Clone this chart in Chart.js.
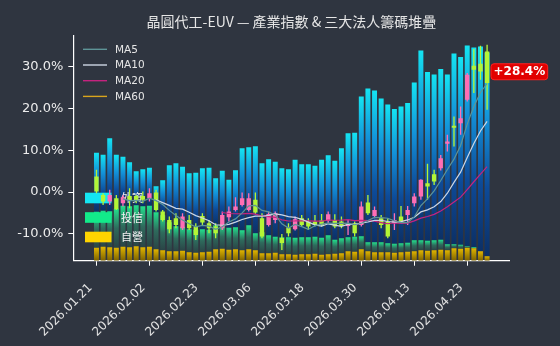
<!DOCTYPE html>
<html>
<head>
<meta charset="utf-8">
<script src="https://cdn.jsdelivr.net/npm/chart.js@4.4.1/dist/chart.umd.min.js"></script>
<style>
  html, body { margin: 0; padding: 0; background: #2f3540; }
  #wrap { width: 560px; height: 346px; }
</style>
</head>
<body>
<div id="wrap"><canvas id="chart" width="560" height="346"></canvas></div>
<script>
// trading days
const dates = [
  '2026.01.21', '2026.01.22', '2026.01.23', '2026.01.26', '2026.01.27', '2026.01.28', '2026.01.29', '2026.01.30',
  '2026.02.02', '2026.02.03', '2026.02.04', '2026.02.05', '2026.02.06', '2026.02.09', '2026.02.10', '2026.02.11',
  '2026.02.23', '2026.02.24', '2026.02.25', '2026.02.26', '2026.03.02', '2026.03.03', '2026.03.04', '2026.03.05',
  '2026.03.06', '2026.03.09', '2026.03.10', '2026.03.11', '2026.03.12', '2026.03.13', '2026.03.16', '2026.03.17',
  '2026.03.18', '2026.03.19', '2026.03.20', '2026.03.23', '2026.03.24', '2026.03.25', '2026.03.26', '2026.03.27',
  '2026.03.30', '2026.03.31', '2026.04.01', '2026.04.02', '2026.04.07', '2026.04.08', '2026.04.09', '2026.04.10',
  '2026.04.13', '2026.04.14', '2026.04.15', '2026.04.16', '2026.04.17', '2026.04.20', '2026.04.21', '2026.04.22',
  '2026.04.23', '2026.04.24', '2026.04.27', '2026.04.28'
];
const xTickIndex = [0, 8, 16, 24, 32, 40, 48, 56];
const yTicks = [-10, 0, 10, 20, 30];

// index, % vs start
const opens = [3.71, -0.67, -2.27, -1.46, -2.65, -0.91, -0.91, -0.91, -1.46, -0.12,
  -4.66, -6.65, -6.24, -8.63, -6.65, -8.25, -5.69, -7.44, -8.25, -8.63,
  -6.00, -4.26, -3.06, -4.26, -1.86, -6.24, -7.84, -6.65, -10.95, -8.49,
  -8.87, -6.24, -7.05, -7.05, -6.81, -6.89, -6.65, -7.05, -8.08, -7.44,
  -7.84, -2.51, -5.69, -6.24, -7.05, -7.44, -5.86, -5.45, -2.65, -1.08,
  2.13, 4.28, 5.71, 11.52, 15.83, 16.47, 22.04, 30.17, 30.65, 33.59];
const highs = [5.31, -0.26, 0.53, -0.67, -0.67, 0.93, -0.67, 0.12, 0.93, 0.53,
  -4.26, -5.86, -5.04, -5.04, -5.45, -7.44, -5.04, -6.65, -7.44, -4.66,
  -3.47, -1.22, -0.12, -0.26, -0.12, -5.04, -4.66, -4.66, -9.99, -7.44,
  -5.86, -5.45, -6.24, -5.45, -5.21, -4.66, -5.28, -5.86, -6.65, -7.05,
  -2.27, -0.67, -3.47, -5.45, -6.24, -5.04, -3.30, -3.30, -0.26, 3.08,
  6.74, 5.31, 8.89, 13.68, 18.05, 20.44, 28.43, 34.17, 34.95, 35.19];
const lows = [-0.26, -3.06, -3.06, -4.26, -3.47, -3.85, -2.65, -2.65, -2.27, -4.66,
  -7.05, -9.83, -8.63, -9.04, -9.04, -11.43, -7.84, -9.83, -11.02, -9.04,
  -7.05, -4.66, -3.47, -4.66, -5.21, -11.02, -8.25, -7.44, -13.82, -10.64,
  -9.20, -8.25, -9.04, -8.25, -8.25, -7.44, -8.63, -8.63, -10.23, -10.64,
  -8.25, -5.45, -6.24, -8.63, -11.02, -9.04, -7.44, -7.84, -3.47, -1.86,
  -1.86, 1.72, 5.14, 9.68, 10.88, 13.68, 21.64, 23.65, 26.83, 19.65];
const closes = [0.12, -2.27, -0.67, -4.09, -1.22, -2.03, -1.86, -1.86, -0.26, -4.26,
  -6.65, -8.87, -7.84, -5.86, -8.63, -10.23, -7.29, -8.63, -9.83, -5.45,
  -4.66, -3.47, -1.46, -1.46, -4.90, -10.64, -5.21, -5.04, -12.15, -9.83,
  -6.48, -7.84, -8.25, -7.84, -7.84, -5.28, -8.25, -8.08, -7.60, -9.83,
  -3.47, -5.04, -4.26, -7.84, -10.64, -6.65, -7.05, -4.26, -1.08, 2.92,
  1.32, 2.51, 8.11, 12.07, 15.35, 17.67, 28.02, 29.22, 28.81, 26.04];

const ma5 = [null, null, null, null, -1.63, -2.06, -1.97, -2.21, -1.45, -2.05,
  -2.98, -4.38, -5.58, -6.70, -7.57, -8.29, -7.97, -8.13, -8.92, -8.29,
  -7.17, -6.41, -4.97, -3.30, -3.19, -4.39, -4.73, -5.45, -7.59, -8.57,
  -7.74, -8.27, -8.91, -8.05, -7.65, -7.41, -7.49, -7.46, -7.41, -7.81,
  -7.45, -6.80, -6.04, -6.09, -6.25, -6.89, -7.29, -7.29, -5.94, -3.22,
  -1.63, 0.28, 2.76, 5.39, 7.87, 11.14, 16.24, 20.47, 23.81, 25.95];
const ma10 = [null, null, null, null, null, null, null, null, null, -1.84,
  -2.52, -3.18, -3.89, -4.07, -4.81, -5.63, -6.18, -6.85, -7.81, -7.93,
  -7.73, -7.19, -6.55, -6.11, -5.74, -5.78, -5.57, -5.21, -5.44, -5.88,
  -6.06, -6.50, -7.18, -7.82, -8.11, -7.58, -7.88, -8.18, -7.73, -7.73,
  -7.43, -7.15, -6.75, -6.75, -7.03, -7.17, -7.05, -6.66, -6.01, -4.74,
  -4.26, -3.50, -2.27, -0.28, 2.32, 4.76, 8.26, 11.61, 14.60, 16.91];
const ma20 = [null, null, null, null, null, null, null, null, null, null,
  null, null, null, null, null, null, null, null, null, -4.88,
  -5.12, -5.18, -5.22, -5.09, -5.28, -5.71, -5.87, -6.03, -6.63, -6.91,
  -6.90, -6.85, -6.87, -6.96, -6.93, -6.68, -6.73, -6.70, -6.59, -6.81,
  -6.75, -6.82, -6.96, -7.28, -7.57, -7.37, -7.46, -7.42, -6.87, -6.23,
  -5.84, -5.33, -4.51, -3.51, -2.35, -1.21, 0.61, 2.47, 4.29, 6.09];
const ma60 = new Array(dates.length).fill(null); // not enough history yet

// chip stack (relative units), bottom to top
const dealerChips = [13, 14, 13.5, 13, 14, 13.5, 14.5, 13.5, 14, 11.5,
  10.5, 9.5, 9.5, 10, 8.5, 8, 8.5, 9, 11.5, 12,
  11, 11.5, 10.5, 11.5, 10.5, 7.5, 7.5, 8, 6.5, 6.5,
  6, 6.5, 6.5, 7, 6, 6.5, 7, 7.5, 9.5, 9,
  11.5, 9.5, 8.5, 8.5, 8.5, 8, 8.5, 9, 9.5, 10.5,
  10, 10.5, 11, 10.5, 12.5, 12, 13, 12.5, 9.5, 4.5];
const trustChips = [36, 36, 36, 39, 41, 41, 41, 41, 41, 37,
  35, 29, 25, 24, 23, 23, 23, 22, 24, 24,
  22, 22, 20, 24, 17, 21, 18, 16, 17, 17,
  17, 17, 17, 17, 17, 19, 14, 15, 14, 15,
  13, 9, 10, 10, 9, 9, 9, 9, 11, 10,
  10, 10, 10, 6, 4, 4, 1.5, 1, 0, 0];
const foreignChips = [59, 56, 73, 54, 49, 44, 34, 37, 38, 26,
  35, 57, 63, 60, 56, 57, 61, 62, 47, 54,
  48, 57, 82, 78, 87, 69, 76, 75, 69, 68,
  78, 73, 73, 71, 78, 80, 79, 90, 104, 104,
  140, 154, 152, 144, 139, 135, 137, 140, 158, 190,
  169, 166, 171, 170, 191, 188, 201, 200, 205, 204];
const chipLabels = ['外資', '投信', '自營'];
const lastChange = 28.4;

const UP = '#ff6eb4';
const DOWN = '#b4f536';
const candleColors = closes.map((c, i) => (c >= opens[i] ? UP : DOWN));

function chipFill(series, below, stops) {
  return (ctx) => {
    const chart = ctx.chart;
    const y2 = chart.scales.y2;
    if (!chart.chartArea || !y2 || ctx.type !== 'data') return stops[0];
    const i = ctx.dataIndex;
    let base = 0;
    below.forEach(s => { base += s[i]; });
    const y0 = y2.getPixelForValue(base);
    const y1 = y2.getPixelForValue(base + series[i]);
    if (y0 - y1 < 1) return stops[0];
    const g = chart.ctx.createLinearGradient(0, y1, 0, y0);
    stops.forEach((c, k) => g.addColorStop(k / (stops.length - 1), c));
    return g;
  };
}

const xy = (arr) => arr.map((v, i) => ({ x: i, y: v }));

const overlay = {
  id: 'overlay',
  beforeDraw(chart) {
    const c = chart.ctx;
    c.save();
    c.fillStyle = '#2f3540';
    c.fillRect(0, 0, chart.width, chart.height);
    c.restore();
  },
  beforeDatasetDraw(chart, args) {
    if (args.index !== 3) return;
    // chip legend sits above the bars but under the candles
    const c = chart.ctx;
    const boxes = ['#14e6f2', '#12ea8a', '#ffd400'];
    const ys = [198, 217.5, 237];
    c.save();
    c.font = '11px "Noto Sans CJK TC", sans-serif';
    c.textBaseline = 'middle';
    boxes.forEach((col, k) => {
      c.fillStyle = col;
      c.fillRect(85, ys[k] - 5.3, 26.5, 10.6);
      c.fillStyle = '#f2f2f2';
      c.fillText(chipLabels[k], 121, ys[k]);
    });
    c.restore();
  },
  afterDraw(chart) {
    const c = chart.ctx;
    const a = chart.chartArea;
    c.save();
    // title
    c.fillStyle = '#e6e6e6';
    c.font = '14px "Noto Sans CJK TC", sans-serif';
    c.textAlign = 'center';
    c.textBaseline = 'middle';
    c.fillText('晶圓代工-EUV — 產業指數 & 三大法人籌碼堆疊', (a.left + a.right) / 2, 21.5);

    // MA legend
    c.textAlign = 'left';
    c.font = '10.5px "DejaVu Sans", sans-serif';
    [5, 6, 7, 8].forEach((di, k) => {
      const ds = chart.data.datasets[di];
      const y = 49.3 + k * 15.7;
      c.strokeStyle = ds.borderColor;
      c.lineWidth = 1.4;
      c.beginPath();
      c.moveTo(83, y);
      c.lineTo(107, y);
      c.stroke();
      c.fillStyle = '#e6e6e6';
      c.fillText(ds.label, 115, y + 0.5);
    });

    // last change tag
    const ty = chart.scales.y.getPixelForValue(lastChange) - 1.5;
    const text = '+' + lastChange.toFixed(1) + '%';
    c.font = 'bold 12px "DejaVu Sans", sans-serif';
    const w = c.measureText(text).width + 5;
    const x0 = 491;
    c.fillStyle = '#e10000';
    c.strokeStyle = '#ff2020';
    c.lineWidth = 1;
    c.beginPath();
    c.roundRect(x0, ty - 8, w, 16, 3);
    c.fill();
    c.stroke();
    c.fillStyle = '#ffffff';
    c.textAlign = 'left';
    c.fillText(text, x0 + 2.5, ty + 0.5);
    c.restore();
  }
};

const ctx = document.getElementById('chart').getContext('2d');
const chart = new Chart(ctx, {
  data: {
    datasets: [
      {
        type: 'bar', label: chipLabels[2], data: xy(dealerChips), yAxisID: 'y2', stack: 'chips', order: 10,
        backgroundColor: chipFill(dealerChips, [], ['#e2b600', '#7c6200']),
        barPercentage: 0.75, categoryPercentage: 1, borderWidth: 0
      },
      {
        type: 'bar', label: chipLabels[1], data: xy(trustChips), yAxisID: 'y2', stack: 'chips', order: 10,
        backgroundColor: chipFill(trustChips, [dealerChips], ['#22e08c', '#2e6a5c', '#2a4446']),
        barPercentage: 0.75, categoryPercentage: 1, borderWidth: 0
      },
      {
        type: 'bar', label: chipLabels[0], data: xy(foreignChips), yAxisID: 'y2', stack: 'chips', order: 10,
        backgroundColor: chipFill(foreignChips, [dealerChips, trustChips], ['#14e4f2', '#1390d8', '#0d4a98', '#0c3066']),
        barPercentage: 0.75, categoryPercentage: 1, borderWidth: 0
      },
      {
        type: 'bar', label: 'wick', data: lows.map((l, i) => ({ x: i, y: [l, highs[i]] })), yAxisID: 'y',
        grouped: false, order: 5, backgroundColor: candleColors,
        barPercentage: 0.2, categoryPercentage: 1, borderWidth: 0
      },
      {
        type: 'bar', label: 'body',
        data: opens.map((o, i) => ({ x: i, y: [Math.min(o, closes[i]), Math.max(o, closes[i])] })),
        yAxisID: 'y', grouped: false, order: 4, backgroundColor: candleColors,
        barPercentage: 0.66, categoryPercentage: 1, borderWidth: 0
      },
      {
        type: 'line', label: 'MA5', data: xy(ma5), yAxisID: 'y', order: 1,
        borderColor: '#5e9497', borderWidth: 1.2, pointRadius: 0
      },
      {
        type: 'line', label: 'MA10', data: xy(ma10), yAxisID: 'y', order: 2,
        borderColor: '#cdd6e4', borderWidth: 1.2, pointRadius: 0
      },
      {
        type: 'line', label: 'MA20', data: xy(ma20), yAxisID: 'y', order: 3,
        borderColor: '#c4237f', borderWidth: 1.2, pointRadius: 0
      },
      {
        type: 'line', label: 'MA60', data: xy(ma60), yAxisID: 'y', order: 3,
        borderColor: '#d9a51c', borderWidth: 1.2, pointRadius: 0
      }
    ]
  },
  options: {
    responsive: false,
    animation: false,
    devicePixelRatio: 1,
    layout: { padding: { top: 36, right: 50.4, bottom: 0, left: 0 } },
    plugins: {
      legend: { display: false },
      tooltip: { enabled: false },
      title: { display: false }
    },
    scales: {
      x: {
        type: 'linear',
        offset: false,
        min: -3.5,
        max: 62.4,
        afterBuildTicks: (scale) => { scale.ticks = xTickIndex.map(v => ({ value: v })); },
        afterFit: (scale) => { scale.height = 85.3; },
        ticks: {
          autoSkip: false,
          maxRotation: 45,
          minRotation: 45,
          color: '#e2e2e2',
          font: { family: '"DejaVu Sans", sans-serif', size: 12 },
          padding: 15,
          labelOffset: -6,
          callback: (v) => dates[v] || ''
        },
        grid: { offset: false, drawOnChartArea: false, drawTicks: true, tickLength: 5, tickColor: '#ffffff', tickWidth: 1 },
        border: { display: true, color: '#ffffff', width: 1.2 }
      },
      y: {
        position: 'left',
        min: -16.4,
        max: 37.3,
        afterBuildTicks: (scale) => { scale.ticks = yTicks.map(v => ({ value: v })); },
        afterFit: (scale) => { scale.width = 73.3; },
        ticks: {
          color: '#ececec',
          font: { family: '"DejaVu Sans", sans-serif', size: 13 },
          padding: 5,
          callback: (v) => v.toFixed(1) + '%'
        },
        grid: { drawOnChartArea: false, drawTicks: true, tickLength: 5, tickColor: '#ffffff', tickWidth: 1 },
        border: { display: true, color: '#ffffff', width: 1.2 }
      },
      y2: {
        display: false,
        stacked: true,
        min: 0,
        max: 225
      }
    }
  },
  plugins: [overlay]
});
</script>
</body>
</html>
